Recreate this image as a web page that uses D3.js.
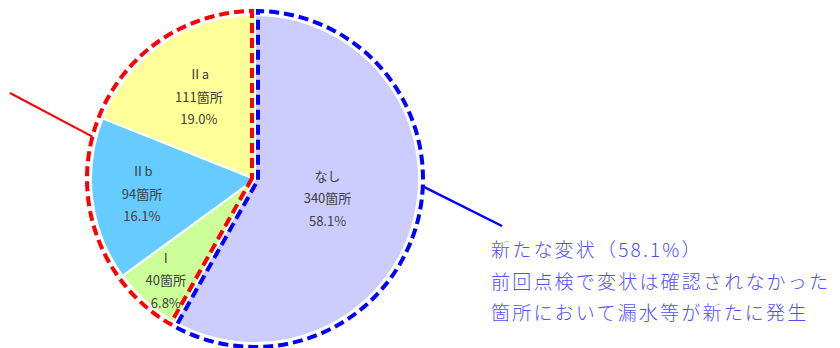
<!DOCTYPE html>
<html>
<head>
<meta charset="utf-8">
<script src="https://cdn.jsdelivr.net/npm/d3@7"></script>
<style>
  html, body { margin: 0; padding: 0; background: #ffffff; }
  svg { display: block; }
</style>
</head>
<body>
<svg id="chart" width="840" height="348"></svg>
<script>
// Slices in clockwise order starting at 12 o'clock
const categories = ["なし", "Ⅰ", "Ⅱb", "Ⅱa"];
const counts = [340, 40, 94, 111];
const unitLabel = "箇所";

// Groupings outlined with dashed borders
const newDefectCategories = ["なし"];
const existingCategories = ["Ⅰ", "Ⅱb", "Ⅱa"];

// Callout text
const calloutTitle = "新たな変状";
const calloutLines = ["前回点検で変状は確認されなかった", "箇所において漏水等が新たに発生"];

// Styling / layout
const sliceColors = ["#CCCCFF", "#CCFF99", "#66CCFF", "#FFFF99"];
const labelRadiusFrac = [0.457, 0.82, 0.695, 0.61];
const cx = 255, cy = 179, rFill = 164, rLine = 168, inset = 3;

const svg = d3.select("#chart");
const g = svg.append("g").attr("transform", `translate(${cx},${cy})`);

const total = d3.sum(counts);
const pct = d3.format(".1%");
const pie = d3.pie().sort(null);
const arcs = pie(counts);
const arc = d3.arc().innerRadius(0).outerRadius(rFill);

// slices
g.selectAll("path.slice")
  .data(arcs)
  .join("path")
  .attr("class", "slice")
  .attr("d", arc)
  .attr("fill", (d, i) => sliceColors[i])
  .attr("stroke", "#ffffff")
  .attr("stroke-width", 2)
  .attr("stroke-linejoin", "round");

// slice labels
const labels = g.selectAll("g.label")
  .data(arcs)
  .join("g")
  .attr("class", "label")
  .attr("transform", (d, i) => {
    const a = (d.startAngle + d.endAngle) / 2;
    const r = rFill * labelRadiusFrac[i];
    return `translate(${r * Math.sin(a)},${-r * Math.cos(a)})`;
  });
labels.each(function (d, i) {
  const lines = [categories[i], d.value + unitLabel, pct(d.value / total)];
  d3.select(this).selectAll("text")
    .data(lines)
    .join("text")
    .attr("x", 0)
    .attr("y", (t, j) => (j - 1) * 22.5)
    .attr("text-anchor", "middle")
    .attr("dominant-baseline", "central")
    .attr("font-family", "'Noto Sans CJK JP', 'Noto Sans', sans-serif")
    .attr("font-size", 13)
    .attr("fill", "#404040")
    .text(t => t);
});

// dashed group outlines, inset from the radial edges
function groupAngles(names) {
  const sel = arcs.filter((d, i) => names.includes(categories[i]));
  return [d3.min(sel, d => d.startAngle), d3.max(sel, d => d.endAngle)];
}
function outlinePath(a0, a1) {
  const b = (a0 + a1) / 2;
  const k = inset / Math.sin((a1 - a0) / 2);
  const c = [k * Math.sin(b), -k * Math.cos(b)];
  const end = a => {
    const u = [Math.sin(a), -Math.cos(a)];
    const cu = c[0] * u[0] + c[1] * u[1];
    const cc = c[0] * c[0] + c[1] * c[1];
    const t = -cu + Math.sqrt(cu * cu - cc + rLine * rLine);
    return [c[0] + t * u[0], c[1] + t * u[1]];
  };
  const p0 = end(a0), p1 = end(a1);
  const s0 = Math.atan2(p0[1], p0[0]);
  let s1 = Math.atan2(p1[1], p1[0]);
  while (s1 < s0) s1 += 2 * Math.PI;
  const p = d3.path();
  p.moveTo(c[0], c[1]);
  p.lineTo(p0[0], p0[1]);
  p.arc(0, 0, rLine, s0, s1, false);
  p.closePath();
  return p.toString();
}
const pointOnOutline = a => [rLine * Math.sin(a), -rLine * Math.cos(a)];

const existing = groupAngles(existingCategories);
const fresh = groupAngles(newDefectCategories);

g.append("path")
  .attr("d", outlinePath(existing[0], existing[1]))
  .attr("fill", "none")
  .attr("stroke", "#FF0000")
  .attr("stroke-width", 4)
  .attr("stroke-dasharray", "10,5");

g.append("path")
  .attr("d", outlinePath(fresh[0], fresh[1]))
  .attr("fill", "none")
  .attr("stroke", "#0000FF")
  .attr("stroke-width", 4)
  .attr("stroke-dasharray", "10,5");

// leader lines
const redStart = pointOnOutline((existing[0] + existing[1]) / 2);
g.append("line")
  .attr("x1", redStart[0]).attr("y1", redStart[1])
  .attr("x2", 10 - cx).attr("y2", 93 - cy)
  .attr("stroke", "#FF0000").attr("stroke-width", 2);

const blueStart = pointOnOutline(fresh[0] + (fresh[1] - fresh[0]) * 0.442);
g.append("line")
  .attr("x1", blueStart[0]).attr("y1", blueStart[1])
  .attr("x2", 502 - cx).attr("y2", 226 - cy)
  .attr("stroke", "#0000FF").attr("stroke-width", 2.5);

// callout text
const freshTotal = d3.sum(counts.filter((v, i) => newDefectCategories.includes(categories[i])));
const callout = svg.append("g")
  .attr("font-family", "'Noto Sans CJK JP', 'Noto Sans', sans-serif")
  .attr("font-weight", 300)
  .attr("fill", "#4F4FFF")
  .attr("font-size", 19)
  .attr("letter-spacing", 2.2);
const calloutText = [`${calloutTitle}（${pct(freshTotal / total)}）`].concat(calloutLines);
callout.selectAll("text")
  .data(calloutText)
  .join("text")
  .attr("x", 491)
  .attr("y", (t, i) => [257, 289, 320][i])
  .text(t => t);
</script>
</body>
</html>
